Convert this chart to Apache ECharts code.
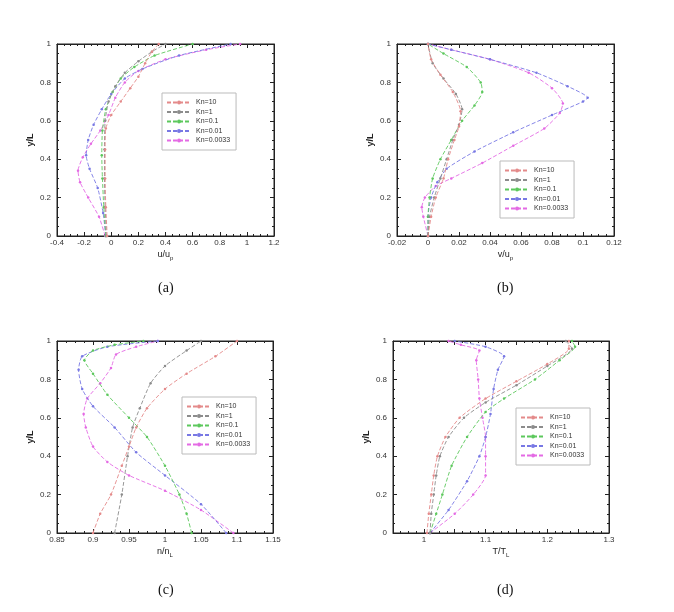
<!DOCTYPE html>
<html>
<head>
<meta charset="utf-8">
<script src="https://cdn.jsdelivr.net/npm/echarts@6/dist/echarts.min.js"></script>
<style>
    html, body { margin: 0; padding: 0; background: #fff; }
    #main { width: 674px; height: 612px; }
</style>
</head>
<body>
<div id="main"></div>
<script>
    // legend names and line colours
    const knNames = ['Kn=10', 'Kn=1', 'Kn=0.1', 'Kn=0.01', 'Kn=0.0033'];
    const knColors = ['#e48a8a', '#8c8c8c', '#5cc85c', '#7878e4', '#e46ae4'];

    // (a) u/u_p  [x, y/L]
    const uKn10 = [[-0.03, 0], [-0.04, 0.15], [-0.045, 0.3], [-0.045, 0.45], [-0.04, 0.56], [0, 0.63], [0.07, 0.7], [0.14, 0.77], [0.2, 0.83], [0.25, 0.9], [0.3, 0.96], [0.35, 1]];
    const uKn1 = [[-0.035, 0], [-0.045, 0.15], [-0.05, 0.3], [-0.05, 0.45], [-0.045, 0.6], [-0.02, 0.7], [0.03, 0.78], [0.1, 0.85], [0.2, 0.91], [0.3, 0.96], [0.4, 1]];
    const uKn01 = [[-0.04, 0], [-0.055, 0.15], [-0.065, 0.3], [-0.07, 0.42], [-0.065, 0.55], [-0.04, 0.66], [0.01, 0.75], [0.07, 0.82], [0.17, 0.88], [0.32, 0.94], [0.6, 1]];
    const uKn001 = [[-0.04, 0], [-0.06, 0.12], [-0.1, 0.25], [-0.16, 0.35], [-0.185, 0.42], [-0.17, 0.5], [-0.13, 0.58], [-0.07, 0.66], [0, 0.74], [0.1, 0.82], [0.23, 0.87], [0.5, 0.94], [0.88, 1]];
    const uKn0033 = [[-0.045, 0], [-0.09, 0.1], [-0.17, 0.2], [-0.23, 0.28], [-0.245, 0.34], [-0.21, 0.41], [-0.15, 0.48], [-0.08, 0.55], [-0.02, 0.63], [0.03, 0.72], [0.1, 0.8], [0.2, 0.86], [0.4, 0.92], [0.7, 0.97], [0.95, 1]];

    // (b) v/u_p
    const vKn10 = [[0, 0], [0.002, 0.1], [0.005, 0.2], [0.01, 0.3], [0.013, 0.4], [0.017, 0.5], [0.02, 0.57], [0.021, 0.65], [0.016, 0.75], [0.008, 0.84], [0.002, 0.92], [0, 1]];
    const vKn1 = [[0, 0], [0.001, 0.1], [0.004, 0.2], [0.008, 0.3], [0.012, 0.4], [0.016, 0.5], [0.02, 0.58], [0.022, 0.66], [0.018, 0.74], [0.01, 0.82], [0.003, 0.9], [0, 1]];
    const vKn01 = [[0, 0], [0, 0.1], [0.001, 0.2], [0.003, 0.3], [0.008, 0.4], [0.015, 0.5], [0.022, 0.6], [0.03, 0.68], [0.035, 0.75], [0.034, 0.8], [0.025, 0.88], [0.01, 0.95], [0, 1]];
    const vKn001 = [[0, 0], [0, 0.1], [0.002, 0.2], [0.006, 0.28], [0.012, 0.35], [0.03, 0.44], [0.055, 0.54], [0.08, 0.63], [0.1, 0.7], [0.103, 0.72], [0.09, 0.78], [0.07, 0.85], [0.04, 0.92], [0.015, 0.97], [0, 1]];
    const vKn0033 = [[0, 0], [-0.003, 0.1], [-0.004, 0.15], [-0.002, 0.2], [0.005, 0.26], [0.015, 0.3], [0.035, 0.38], [0.055, 0.47], [0.075, 0.56], [0.085, 0.64], [0.087, 0.69], [0.08, 0.77], [0.065, 0.85], [0.04, 0.92], [0.015, 0.97], [0, 1]];

    // (c) n/n_L
    const nKn10 = [[0.9, 0], [0.91, 0.1], [0.925, 0.2], [0.94, 0.35], [0.95, 0.45], [0.96, 0.55], [0.975, 0.65], [1.0, 0.75], [1.03, 0.83], [1.07, 0.92], [1.1, 1]];
    const nKn1 = [[0.93, 0], [0.94, 0.2], [0.948, 0.4], [0.955, 0.55], [0.965, 0.65], [0.98, 0.78], [1.0, 0.87], [1.03, 0.95], [1.05, 1]];
    const nKn01 = [[1.037, 0], [1.03, 0.1], [1.02, 0.2], [1.0, 0.35], [0.975, 0.5], [0.95, 0.6], [0.92, 0.72], [0.9, 0.83], [0.888, 0.9], [0.9, 0.95], [0.93, 0.98], [0.97, 1]];
    const nKn001 = [[1.085, 0], [1.05, 0.15], [1.0, 0.3], [0.96, 0.42], [0.93, 0.55], [0.9, 0.66], [0.885, 0.75], [0.88, 0.85], [0.885, 0.92], [0.92, 0.97], [0.99, 1]];
    const nKn0033 = [[1.095, 0], [1.05, 0.12], [1.0, 0.22], [0.95, 0.3], [0.92, 0.37], [0.9, 0.45], [0.89, 0.55], [0.887, 0.62], [0.892, 0.7], [0.91, 0.78], [0.925, 0.86], [0.932, 0.93], [0.96, 0.97], [0.99, 1]];

    // (d) T/T_L
    const tKn10 = [[1.005, 0], [1.008, 0.1], [1.012, 0.2], [1.016, 0.3], [1.022, 0.4], [1.035, 0.5], [1.058, 0.6], [1.1, 0.7], [1.15, 0.79], [1.2, 0.88], [1.235, 0.96], [1.235, 1]];
    const tKn1 = [[1.01, 0], [1.012, 0.1], [1.016, 0.2], [1.02, 0.3], [1.026, 0.4], [1.04, 0.5], [1.065, 0.6], [1.1, 0.68], [1.15, 0.77], [1.2, 0.87], [1.24, 0.96], [1.23, 1]];
    const tKn01 = [[1.01, 0], [1.02, 0.1], [1.03, 0.2], [1.045, 0.35], [1.07, 0.5], [1.1, 0.63], [1.13, 0.7], [1.18, 0.8], [1.22, 0.9], [1.245, 0.97], [1.24, 1]];
    const tKn001 = [[1.01, 0], [1.04, 0.12], [1.07, 0.27], [1.09, 0.4], [1.1, 0.5], [1.108, 0.62], [1.113, 0.75], [1.12, 0.85], [1.13, 0.92], [1.1, 0.97], [1.05, 1]];
    const tKn0033 = [[1.01, 0], [1.05, 0.1], [1.08, 0.2], [1.1, 0.3], [1.1, 0.4], [1.1, 0.5], [1.095, 0.6], [1.09, 0.7], [1.088, 0.8], [1.085, 0.9], [1.09, 0.95], [1.06, 0.98], [1.04, 1]];

    const panels = [
        {grid: {left: 57, top: 44, width: 217, height: 192}, min: -0.4, max: 1.2, interval: 0.2, name: 'u/u', sub: 'p', data: [uKn10, uKn1, uKn01, uKn001, uKn0033], legend: {left: 162, top: 93}, tag: '(a)', tagPos: [166, 289]},
        {grid: {left: 397, top: 44, width: 217, height: 192}, min: -0.02, max: 0.12, interval: 0.02, name: 'v/u', sub: 'p', data: [vKn10, vKn1, vKn01, vKn001, vKn0033], legend: {left: 500, top: 161}, tag: '(b)', tagPos: [505, 289]},
        {grid: {left: 57, top: 341, width: 216, height: 192}, min: 0.85, max: 1.15, interval: 0.05, name: 'n/n', sub: 'L', data: [nKn10, nKn1, nKn01, nKn001, nKn0033], legend: {left: 182, top: 397}, tag: '(c)', tagPos: [166, 591]},
        {grid: {left: 393, top: 341, width: 216, height: 192}, min: 0.95, max: 1.3, interval: 0.05, name: 'T/T', sub: 'L', data: [tKn10, tKn1, tKn01, tKn001, tKn0033], legend: {left: 516, top: 408}, tag: '(d)', tagPos: [505, 591], tenthsOnly: true}
    ];

    const labelStyle = {fontSize: 8, color: '#333', fontFamily: 'Liberation Sans'};
    const tickStyle = {show: true, inside: true, length: 4, lineStyle: {color: '#222'}};
    const minorStyle = {show: true, length: 2, splitNumber: 4, lineStyle: {color: '#222'}};

    function fmt(v) {
        return String(+v.toFixed(3));
    }

    let grids = [], xAxes = [], yAxes = [], series = [], legends = [], graphics = [];

    panels.forEach((p, i) => {
        grids.push(Object.assign({show: true, borderColor: '#222', borderWidth: 1}, p.grid));
        xAxes.push({
            type: 'value', gridIndex: i, min: p.min, max: p.max, interval: p.interval,
            axisLine: {show: true, onZero: false, lineStyle: {color: '#222'}},
            axisTick: tickStyle, minorTick: minorStyle, splitLine: {show: false},
            axisLabel: Object.assign({margin: 3, formatter: v => {
                if (p.tenthsOnly) {
                    let k = Math.round(v * 100);
                    if (k % 10 !== 0 || v < 1) return '';
                }
                return fmt(v);
            }}, labelStyle),
            name: '{a|' + p.name + '}{s|' + p.sub + '}', nameLocation: 'middle', nameGap: 13,
            nameTextStyle: {rich: {a: {fontSize: 9, color: '#222'}, s: {fontSize: 6, color: '#222', padding: [6, 0, 0, 0]}}}
        });
        yAxes.push({
            type: 'value', gridIndex: i, min: 0, max: 1, interval: 0.2,
            axisLine: {show: true, onZero: false, lineStyle: {color: '#222'}},
            axisTick: tickStyle, minorTick: minorStyle, splitLine: {show: false},
            axisLabel: Object.assign({margin: 6, formatter: fmt}, labelStyle),
            name: 'y/L', nameLocation: 'middle', nameGap: 22, nameRotate: 90,
            nameTextStyle: {fontSize: 9, fontWeight: 'bold', color: '#222'}
        });
        p.data.forEach((d, k) => {
            series.push({
                name: knNames[k], type: 'line', xAxisIndex: i, yAxisIndex: i,
                data: d, smooth: 0.2, symbol: 'circle', symbolSize: 2.5,
                color: knColors[k],
                lineStyle: {width: 0.9, type: [4, 2]},
                itemStyle: {color: knColors[k]},
                z: 5 - k
            });
        });
        legends.push({
            data: knNames, left: p.legend.left, top: p.legend.top, orient: 'vertical',
            itemWidth: 24, itemHeight: 5, itemGap: 2.5, padding: [6, 6, 6, 4],
            backgroundColor: '#fff', borderColor: '#bbb', borderWidth: 1,
            textStyle: {fontSize: 7, color: '#333', fontFamily: 'Liberation Sans'}
        });
        graphics.push({
            type: 'text', left: p.tagPos[0] - 8, top: p.tagPos[1] - 8,
            style: {text: p.tag, font: '14px "Liberation Serif"', fill: '#111'}
        });
    });

    // mirrored axes for ticks on top and right
    panels.forEach((p, i) => {
        xAxes.push({
            type: 'value', gridIndex: i, position: 'top', min: p.min, max: p.max, interval: p.interval,
            axisLine: {show: true, onZero: false, lineStyle: {color: '#222'}},
            axisTick: tickStyle, minorTick: minorStyle, axisLabel: {show: false}, splitLine: {show: false}
        });
        yAxes.push({
            type: 'value', gridIndex: i, position: 'right', min: 0, max: 1, interval: 0.2,
            axisLine: {show: true, onZero: false, lineStyle: {color: '#222'}},
            axisTick: tickStyle, minorTick: minorStyle, axisLabel: {show: false}, splitLine: {show: false}
        });
    });

    let myChart = echarts.init(document.getElementById('main'));
    let option = {
        animation: false,
        backgroundColor: '#fff',
        textStyle: {fontFamily: 'Liberation Sans'},
        grid: grids,
        xAxis: xAxes,
        yAxis: yAxes,
        legend: legends,
        series: series,
        graphic: graphics
    };
    myChart.setOption(option);
</script>
</body>
</html>
